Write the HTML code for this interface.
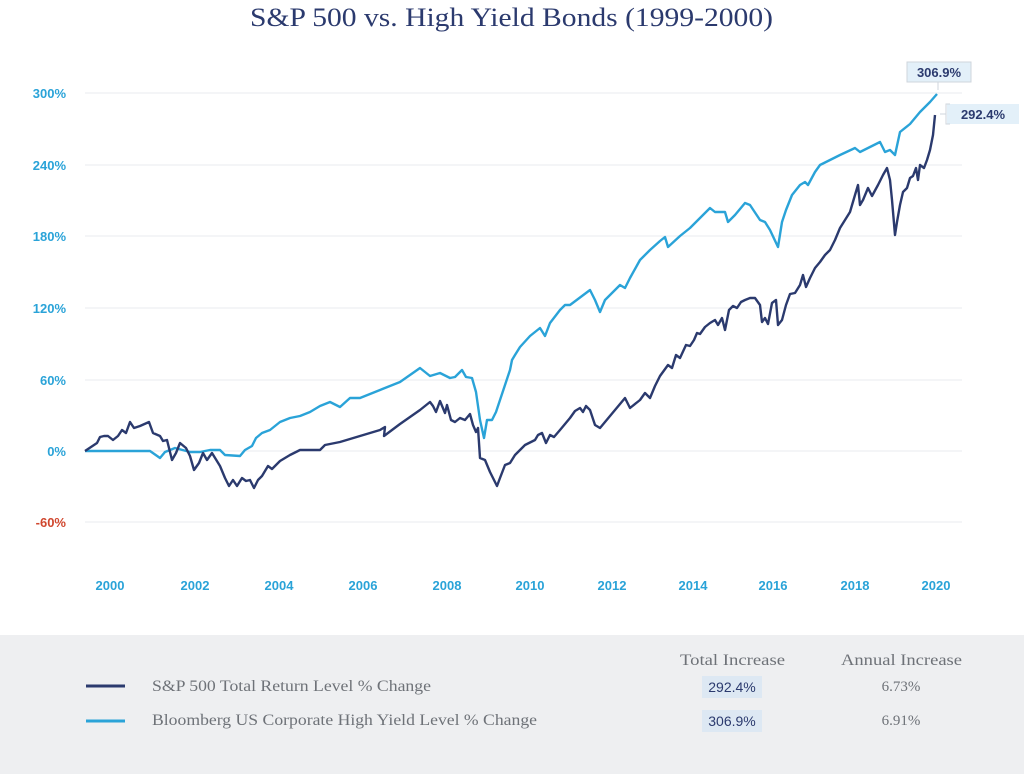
<!DOCTYPE html>
<html><head><meta charset="utf-8"><style>
body{margin:0;width:1024px;height:774px;background:#fff;overflow:hidden;font-family:"Liberation Sans",sans-serif}
</style></head><body>
<svg width="1024" height="774" viewBox="0 0 1024 774" xmlns="http://www.w3.org/2000/svg">
<text x="250" y="26" textLength="523" lengthAdjust="spacingAndGlyphs" font-family="Liberation Serif, serif" font-size="26" fill="#2b3a6e">S&amp;P 500 vs. High Yield Bonds (1999-2000)</text>
<g stroke="#e8ebef" stroke-width="1">
<line x1="85" y1="93" x2="962" y2="93"/><line x1="85" y1="165" x2="962" y2="165"/><line x1="85" y1="236" x2="962" y2="236"/><line x1="85" y1="308" x2="962" y2="308"/><line x1="85" y1="380" x2="962" y2="380"/><line x1="85" y1="451" x2="962" y2="451"/><line x1="85" y1="522" x2="962" y2="522"/>
</g>
<g font-size="13" font-weight="bold" fill="#2aa3d8" text-anchor="end">
<text x="66" y="98">300%</text><text x="66" y="170">240%</text><text x="66" y="241">180%</text><text x="66" y="313">120%</text><text x="66" y="385">60%</text><text x="66" y="456">0%</text><text x="66" y="527" fill="#d0472e">-60%</text>
</g>
<g font-size="13" font-weight="bold" fill="#2aa3d8" text-anchor="middle">
<text x="110" y="590">2000</text><text x="195" y="590">2002</text><text x="279" y="590">2004</text><text x="363" y="590">2006</text><text x="447" y="590">2008</text><text x="530" y="590">2010</text><text x="612" y="590">2012</text><text x="693" y="590">2014</text><text x="773" y="590">2016</text><text x="855" y="590">2018</text><text x="936" y="590">2020</text>
</g>
<polyline fill="none" stroke="#2aa3d8" stroke-width="2.4" stroke-linejoin="round" points="85,451 150,451 160,458 165,452 175,448 190,452 200,452 210,450 220,450 225,455 240,456 245,450 252,446 256,438 262,433 270,430 280,422 290,418 300,416 310,412 320,406 330,402 340,407 350,398 360,398 380,390 400,382 410,375 420,368 430,376 440,373 450,378 455,377 462,370 466,377 472,378 476,392 480,420 484,438 487,420 492,420 496,412 500,400 505,385 510,370 512,360 515,355 520,347 530,336 540,328 545,336 550,323 560,310 565,305 570,305 590,290 595,300 600,312 605,300 610,295 620,285 625,288 630,278 640,260 650,250 660,241 665,237 668,247 680,236 690,228 700,218 710,208 715,212 725,212 728,222 735,215 745,203 750,205 760,220 765,222 770,230 778,247 782,222 786,210 792,195 800,185 805,182 808,185 815,172 820,165 830,160 840,155 855,148 860,152 870,147 880,142 885,152 890,150 895,155 900,132 910,124 920,112 930,102 937,94"/>
<polyline fill="none" stroke="#2b3a6e" stroke-width="2.4" stroke-linejoin="round" points="85,451 97,443 100,437 104,436 108,436 113,440 118,436 122,430 126,433 130,422 134,428 140,426 149,422 153,433 160,436 163,441 167,440 172,460 176,453 180,443 186,448 190,456 194,470 199,463 203,453 207,460 212,453 220,466 225,478 229,486 233,480 237,486 242,478 246,481 250,480 254,488 258,480 262,476 268,466 272,469 280,461 290,455 300,450 320,450 325,445 340,442 360,436 380,430 385,427 384,436 400,424 420,410 430,402 433,406 436,412 440,401 445,413 447,405 451,420 455,422 460,418 465,420 470,414 473,425 476,432 478,428 480,458 485,460 490,472 494,480 497,486 500,478 505,465 510,463 515,455 525,445 535,440 538,435 542,433 546,443 550,435 554,437 560,430 570,418 575,411 580,408 583,412 586,406 590,410 595,425 600,428 605,422 615,410 620,404 625,398 630,408 640,400 645,393 650,398 655,386 660,376 668,365 672,368 676,355 680,358 686,345 690,346 694,340 697,333 700,334 705,327 710,323 715,320 718,325 722,318 725,330 729,310 733,306 737,308 741,302 745,300 750,298 755,298 760,305 762,322 765,318 768,324 772,303 776,300 778,325 782,320 786,305 790,294 795,293 800,285 803,275 806,287 810,278 815,268 820,262 825,255 830,250 835,240 840,228 845,220 850,212 855,195 858,185 860,205 863,200 868,188 872,196 878,185 883,175 887,168 890,180 892,200 895,235 897,222 900,205 903,192 907,188 910,178 913,176 916,168 918,180 920,165 924,168 927,160 930,150 933,135 935,115"/>
<rect x="907" y="62" width="64" height="20" fill="#e3f0f9" stroke="#cfd6dc"/>
<line x1="938" y1="82" x2="938" y2="90" stroke="#cfd6dc"/>
<text x="939" y="77" text-anchor="middle" font-size="13" font-weight="bold" fill="#2b3a6e">306.9%</text>
<rect x="947" y="104" width="72" height="20" fill="#e3f0f9"/>
<path d="M950,104 H946 V124 H950 M946,114 H940" fill="none" stroke="#cfd6dc"/>
<text x="983" y="119" text-anchor="middle" font-size="13" font-weight="bold" fill="#2b3a6e">292.4%</text>
<rect x="0" y="635" width="1024" height="139" fill="#eeeff1"/>
<g font-family="Liberation Serif, serif" font-size="16" fill="#6e7278">
<text x="680" y="665" textLength="105" lengthAdjust="spacingAndGlyphs">Total Increase</text>
<text x="841" y="665" textLength="121" lengthAdjust="spacingAndGlyphs">Annual Increase</text>
<text x="152" y="691" textLength="279" lengthAdjust="spacingAndGlyphs">S&amp;P 500 Total Return Level % Change</text>
<text x="152" y="725" textLength="385" lengthAdjust="spacingAndGlyphs">Bloomberg US Corporate High Yield Level % Change</text>
<text x="901" y="691" text-anchor="middle" font-size="15">6.73%</text>
<text x="901" y="725" text-anchor="middle" font-size="15">6.91%</text>
</g>
<line x1="86" y1="686" x2="125" y2="686" stroke="#2b3a6e" stroke-width="3"/>
<line x1="86" y1="721" x2="125" y2="721" stroke="#2aa3d8" stroke-width="3"/>
<rect x="702" y="676" width="60" height="22" fill="#dde8f3"/>
<rect x="702" y="710" width="60" height="22" fill="#dde8f3"/>
<text x="732" y="692" text-anchor="middle" font-size="14" fill="#2b3a6e">292.4%</text>
<text x="732" y="726" text-anchor="middle" font-size="14" fill="#2b3a6e">306.9%</text>
</svg>
</body></html>
